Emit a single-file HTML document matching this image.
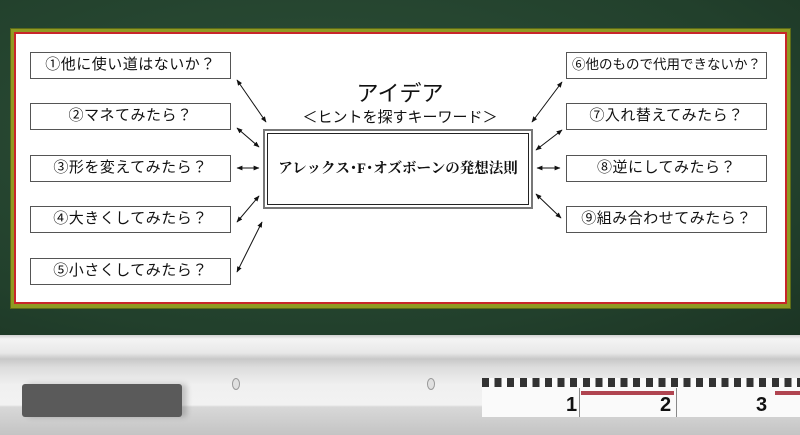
<!DOCTYPE html>
<html><head><meta charset="utf-8"><style>
*{margin:0;padding:0;box-sizing:border-box}
body{width:800px;height:435px;overflow:hidden;background:#24432f;font-family:"Liberation Sans","Noto Sans CJK JP",sans-serif;position:relative}
.board{position:absolute;left:0;top:0;width:800px;height:335px;background:radial-gradient(ellipse at 40% 40%,#2d5038,#22402c 70%,#1c3524)}
.frame{position:absolute;left:10px;top:28px;width:781px;height:281px;background:#8f9a22;border:1px solid #5d6a18}
.red{position:absolute;left:14px;top:32px;width:773px;height:272px;background:#c8262a}
.white{position:absolute;left:16px;top:34px;width:769px;height:268px;background:#fff}
.b{position:absolute;width:201px;height:27px;border:1.5px solid #555;background:#fff;font-size:15px;text-align:center;line-height:24px;color:#111;white-space:nowrap;letter-spacing:0.5px;overflow:hidden}
.center{position:absolute;left:263px;top:129px;width:270px;height:80px;border:2px solid #777;outline:1px solid #222;outline-offset:-5px;background:#fff;font-family:"Liberation Serif","Noto Serif CJK SC",serif;font-size:14.5px;font-weight:bold;text-align:center;line-height:76px;color:#111;white-space:nowrap}
.t1{position:absolute;left:330px;top:76px;width:140px;text-align:center;font-size:22px;color:#111}
.t2{position:absolute;left:300px;top:106px;width:200px;text-align:center;font-size:15px;color:#111}
.tray{position:absolute;left:0;top:335px;width:800px;height:100px;background:linear-gradient(#d0d0d0 0,#f4f4f4 4px,#e8e8e8 18px,#c8c8c8 24px,#dcdcdc 32px,#f0f0f0 50px,#f2f2f2 70px,#d8d8d8 72px,#c4c4c4 100px)}
.eraser{position:absolute;left:22px;top:384px;width:160px;height:33px;background:#5a5a5a;border-radius:3px;box-shadow:5px 0 6px rgba(0,0,0,.2)}
.hole{position:absolute;top:378px;width:8px;height:12px;border-radius:50%;background:#e0e0e0;border:1px solid #999}
.ruler{position:absolute;left:482px;top:378px;width:318px;height:39px;background:#fafafa}
.ticks{position:absolute;left:482px;top:378px;width:318px;height:9px;background:repeating-linear-gradient(90deg,#333 0 7px,transparent 7px 12.6px)}
.rb{position:absolute;top:391px;height:4px;background:#b04450}
.n{position:absolute;top:394px;font-size:20px;font-weight:bold;color:#111}
</style></head><body>
<div class="board"></div>
<div class="frame"></div><div class="red"></div><div class="white"></div>
<div class="b" style="left:30px;top:52px">①他に使い道はないか？</div>
<div class="b" style="left:30px;top:103px">②マネてみたら？</div>
<div class="b" style="left:30px;top:155px">③形を変えてみたら？</div>
<div class="b" style="left:30px;top:206px">④大きくしてみたら？</div>
<div class="b" style="left:30px;top:258px">⑤小さくしてみたら？</div>
<div class="b" style="left:566px;top:52px;letter-spacing:0;font-size:13.5px">⑥他のもので代用できないか？</div>
<div class="b" style="left:566px;top:103px">⑦入れ替えてみたら？</div>
<div class="b" style="left:566px;top:155px">⑧逆にしてみたら？</div>
<div class="b" style="left:566px;top:206px">⑨組み合わせてみたら？</div>
<div class="t1">アイデア</div>
<div class="t2">＜ヒントを探すキーワード＞</div>
<div class="center">アレックス･F･オズボーンの発想法則</div>
<svg style="position:absolute;left:0;top:0" width="800" height="335">
<defs><marker id="a" viewBox="0 0 10 10" refX="9" refY="5" markerWidth="6" markerHeight="6" orient="auto-start-reverse"><path d="M0,1 L10,5 L0,9z" fill="#111"/></marker></defs>
<g stroke="#111" stroke-width="1" marker-start="url(#a)" marker-end="url(#a)">
<line x1="237" y1="80" x2="266" y2="122"/>
<line x1="237" y1="128" x2="259" y2="147"/>
<line x1="237" y1="168" x2="259" y2="168"/>
<line x1="237" y1="222" x2="259" y2="196"/>
<line x1="237" y1="272" x2="262" y2="222"/>
<line x1="562" y1="82" x2="532" y2="122"/>
<line x1="562" y1="130" x2="536" y2="150"/>
<line x1="537" y1="168" x2="560" y2="168"/>
<line x1="536" y1="194" x2="561" y2="218"/>
</g></svg>
<div class="tray"></div>
<div class="eraser"></div>
<div class="hole" style="left:232px"></div>
<div class="hole" style="left:427px"></div>
<div class="ruler"></div><div class="ticks"></div>
<div class="rb" style="left:581px;width:93px"></div>
<div class="rb" style="left:775px;width:25px"></div>
<div style="position:absolute;left:579px;top:388px;width:1px;height:29px;background:#888"></div>
<div style="position:absolute;left:676px;top:388px;width:1px;height:29px;background:#888"></div>
<div class="n" style="left:566px">1</div>
<div class="n" style="left:660px">2</div>
<div class="n" style="left:756px">3</div>
</body></html>
